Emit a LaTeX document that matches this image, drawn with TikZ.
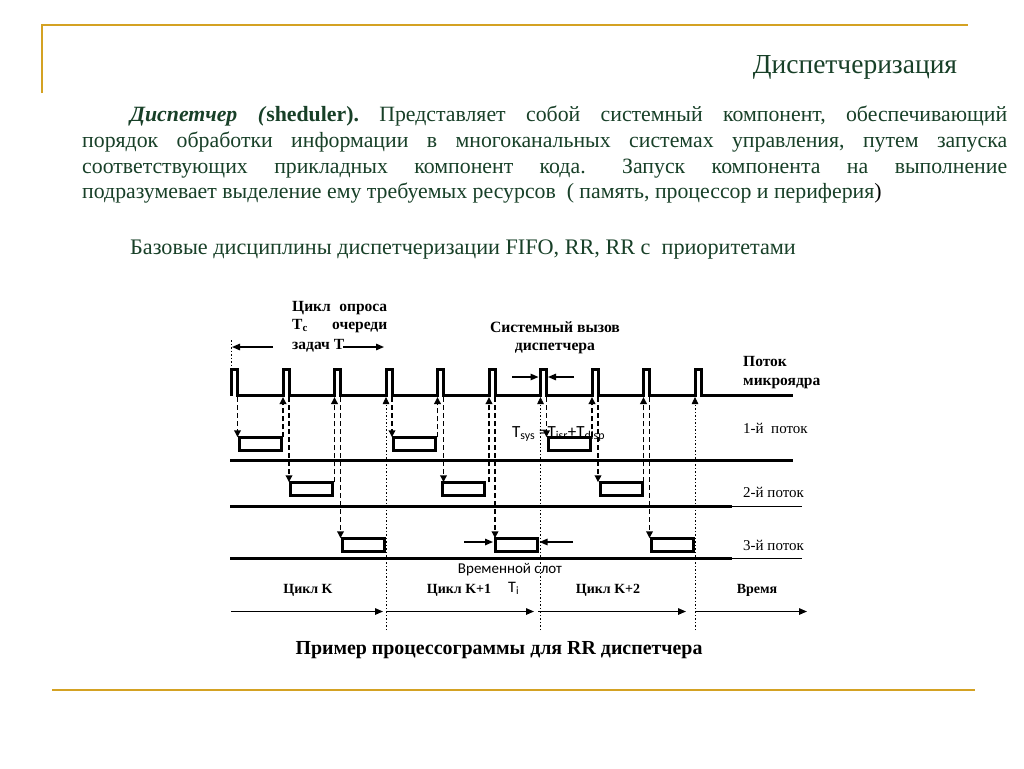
\documentclass[tikz,border=0pt]{standalone}
\usepackage{fontspec}
\setmainfont{Liberation Serif}
\newfontfamily\calfont{Carlito}
\usetikzlibrary{arrows.meta}
\definecolor{gold}{RGB}{212,162,35}
\definecolor{slidegreen}{RGB}{24,64,40}
\frenchspacing
\begin{document}
\begin{tikzpicture}[x=1pt,y=-1pt,
  goldline/.style={draw=gold,line width=2.8pt},
  body/.style={inner sep=0pt,anchor=base west,text=slidegreen,font=\fontsize{21.8}{24}\selectfont},
  lbl/.style={inner sep=0pt,anchor=base west,font=\bfseries\fontsize{15.5}{18}\selectfont},
  lblc/.style={inner sep=0pt,anchor=base,font=\bfseries\fontsize{15.7}{18}\selectfont},
  thr/.style={inner sep=0pt,anchor=base west,font=\fontsize{15}{18}\selectfont},
  sans/.style={inner sep=0pt,anchor=base west,font=\calfont\fontsize{16}{18}\selectfont},
  kline/.style={line width=3pt},
  thinline/.style={line width=1pt},
  taskbox/.style={draw,line width=3pt,fill=white,minimum width=42pt,minimum height=13.5pt,inner sep=0pt,outer sep=0pt},
  darr/.style={line width=1.8pt,dash pattern=on 5pt off 3pt,-{Triangle[length=7pt,width=6.5pt]}},
  dotarr/.style={line width=0.8pt,dash pattern=on 1.5pt off 2pt,-{Triangle[length=7pt,width=6.5pt]}},
  dotln/.style={line width=0.8pt,dash pattern=on 1.5pt off 2pt},
  sarr/.style={line width=1.4pt,-{Triangle[length=8pt,width=6.5pt]}},
]
\useasboundingbox[fill=white] (0,0) rectangle (1024,768);

% frame
\draw[goldline] (42,93) -- (42,25) -- (968,25);
\draw[goldline] (52,690) -- (975,690);

% title
\node[anchor=base,inner sep=0pt,text=slidegreen,font=\fontsize{27.5}{30}\selectfont] (title) at (855,73) {Диспетчеризация};

% paragraph
\node[body] (l1) at (130,121) {\makebox[877pt][s]{\textbf{\textit{Диспетчер (}sheduler).} Представляет собой системный компонент, обеспечивающий}};
\node[body] (l2) at (82,147) {\makebox[925pt][s]{порядок обработки информации в многоканальных системах управления, путем запуска}};
\node[body] (l3) at (82,173) {\makebox[925pt][s]{соответствующих прикладных компонент кода.\hspace{10pt} Запуск компонента на выполнение}};
\node[body] (l4) at (82,198) {подразумевает выделение ему требуемых ресурсов\ \ ( память, процессор и периферия\textcolor{black}{)}};
\node[body,font=\fontsize{22.2}{24}\selectfont] (l5) at (130,254) {Базовые дисциплины диспетчеризации FIFO, RR, RR с\ \ приоритетами};

% pulses coordinates
\foreach \k in {1,...,10} {
  \coordinate (pl\k) at ({231.5+51.5*(\k-1)},397);
  \coordinate (pr\k) at ({237.5+51.5*(\k-1)},397);
}
\coordinate (axb) at (0,630);

% microkernel line
\draw[kline] (231.5,395.5) \foreach \k in {0,...,9}{ -- ({231.5+51.5*\k},395.5) -- ({231.5+51.5*\k},369.5) -- ({237.5+51.5*\k},369.5) -- ({237.5+51.5*\k},395.5)} -- (793,395.5);

% thread lines
\draw[kline] (230,460.5) -- (793,460.5);
\draw[kline] (230,506.5) -- (732,506.5);
\draw[thinline] (732,506.5) -- (802,506.5);
\draw[kline] (230,558.5) -- (732,558.5);
\draw[thinline] (732,558.5) -- (802,558.5);

% T_sys label (under box)
\node[sans,font=\calfont\fontsize{17}{18}\selectfont] (tsys) at (512,437) {T\textsubscript{sys} =T\textsubscript{isr}+T\textsubscript{disp}};

% boxes
\node[taskbox] (b1) at (260,444) {};
\node[taskbox] (b2) at (311.5,489) {};
\node[taskbox] (b3) at (363,545) {};
\node[taskbox] (b4) at (414.5,444) {};
\node[taskbox] (b5) at (463,489) {};
\node[taskbox] (b6) at (516,545) {};
\node[taskbox] (b7) at (569,444) {};
\node[taskbox] (b8) at (621,489) {};
\node[taskbox] (b9) at (672.5,545) {};

% down arrows
\foreach \k in {1,...,9} { \draw[darr] (pr\k) -- (pr\k |- b\k.north); }
% up dashed arrows
\foreach \k/\n in {1/2,2/3,4/5,5/6,7/8,8/9} { \draw[darr] (pl\n |- b\k.north) -- (pl\n); }
% up dotted long arrows (cycle boundaries)
\foreach \n in {4,7,10} { \draw[dotarr] (pl\n |- axb) -- (pl\n); }

% T_c dimension
\coordinate (tcl) at (231.5,340);
\coordinate (tcl2) at (231.5,368);
\draw[dotln] (tcl) -- (tcl2);
\coordinate (tca1) at (273,347);
\coordinate (tca2) at (232,347);
\coordinate (tcb1) at (343,347);
\coordinate (tcb2) at (384,347);
\draw[sarr] (tca1) -- (tca2);
\draw[sarr] (tcb1) -- (tcb2);
\node[lbl] (c1) at (292,311) {\makebox[95pt][s]{Цикл опроса}};
\node[lbl] (c2) at (292,329) {\makebox[95pt][s]{Т\textsubscript{с} очереди}};
\node[lbl] (c3) at (292,349) {задач Т};

% system call
\node[lblc] (s1) at (555,332) {Системный вызов};
\node[lblc] (s2) at (555,350) {диспетчера};
\coordinate (sa1) at (512,377);
\coordinate (sa2) at (538.5,377);
\coordinate (sb1) at (574,377);
\coordinate (sb2) at (548,377);
\draw[sarr] (sa1) -- (sa2);
\draw[sarr] (sb1) -- (sb2);

% right labels
\node[lbl] (m1) at (743,366) {Поток};
\node[lbl] (m2) at (743,385) {микроядра};
\node[thr] (th1) at (743,433) {1-й\ \ поток};
\node[thr] (th2) at (743,497) {2-й поток};
\node[thr] (th3) at (743,550) {3-й поток};

% time slot
\node[anchor=base,inner sep=0pt,font=\calfont\fontsize{15}{18}\selectfont] (slot) at (510,573) {Временной слот};
\coordinate (ts1) at (464,542);
\coordinate (ts2) at (493,542);
\coordinate (ts3) at (573,542);
\coordinate (ts4) at (539.5,542);
\draw[sarr] (ts1) -- (ts2);
\draw[sarr] (ts3) -- (ts4);

% cycles
\node[lblc,font=\bfseries\fontsize{14}{16}\selectfont] (ck) at (308,593) {Цикл K};
\node[lblc,font=\bfseries\fontsize{14}{16}\selectfont] (ck1) at (459,593) {Цикл K+1};
\node[sans] (ti) at (508,592) {T\textsubscript{i}};
\node[lblc,font=\bfseries\fontsize{14}{16}\selectfont] (ck2) at (608,593) {Цикл K+2};
\node[lblc,font=\bfseries\fontsize{14}{16}\selectfont] (vr) at (757,593) {Время};

% time axis
\coordinate (t0) at (231,611.5);
\coordinate (t1) at (383,611.5);
\coordinate (t1b) at (386,611.5);
\coordinate (t2) at (534,611.5);
\coordinate (t2b) at (538,611.5);
\coordinate (t3) at (686,611.5);
\coordinate (t3b) at (696,611.5);
\coordinate (t4) at (807,611.5);
\draw[sarr] (t0) -- (t1);
\draw[sarr] (t1b) -- (t2);
\draw[sarr] (t2b) -- (t3);
\draw[sarr] (t3b) -- (t4);

% caption
\node[anchor=base,inner sep=0pt,font=\bfseries\fontsize{19.9}{22}\selectfont] (cap) at (499,654) {Пример процессограммы для RR диспетчера};
\end{tikzpicture}
\end{document}
